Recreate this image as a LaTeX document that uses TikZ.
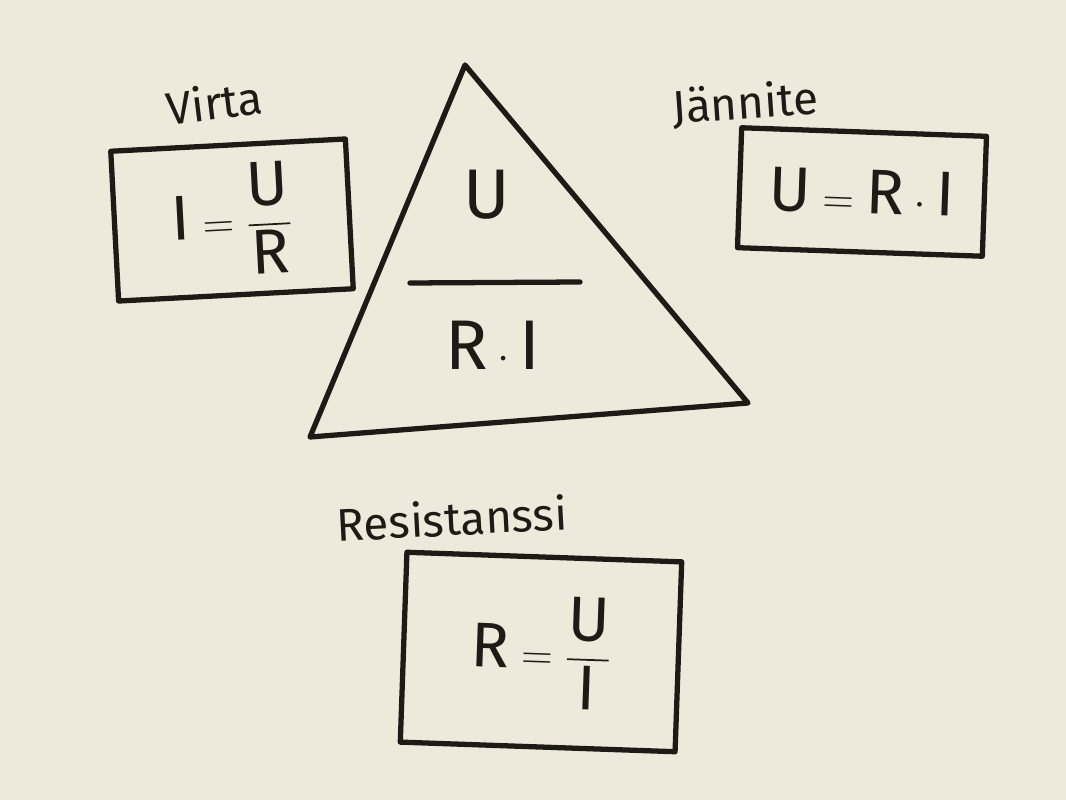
\documentclass[tikz,border=0pt]{standalone}
\usepackage{amsmath}
\usepackage{fontspec}
\setmainfont{Fira Sans}
\definecolor{paperi}{RGB}{238,233,218}
\definecolor{tussi}{RGB}{30,26,22}

\begin{document}
\begin{tikzpicture}[x=0.02cm,y=-0.02cm,
	tussi/.style={draw=tussi,line width=3pt,line cap=round,line join=round},
	laatikko/.style={tussi,rectangle,inner sep=0pt,text=tussi,font=\fontsize{36}{42}\selectfont},
	otsikko/.style={text=tussi,inner sep=1pt,font=\fontsize{26}{30}\selectfont},
	kaava/.style={text=tussi,font=\fontsize{40}{46}\selectfont}]
	
	% tausta
	\fill[paperi] (0,0) rectangle (1066,800);
	\useasboundingbox (0,0) rectangle (1066,800);
	
	% kolmio
	\coordinate (huippu) at (465,65);
	\coordinate (vasen) at (310,437);
	\coordinate (oikea) at (748,403);
	\draw[tussi] (huippu) -- (oikea) -- (vasen) -- cycle;
	\node[kaava] (U) at (487,195) {$\mathrm{U}$};
	\coordinate (viiva1) at (410,283);
	\coordinate (viiva2) at (580,282);
	\draw[tussi] (viiva1) -- (viiva2);
	\node[kaava] (RI) at (493,345) {$\mathrm{R}\cdot\mathrm{I}$};
	
	% laatikot
	\node[laatikko,minimum width=4.7cm,minimum height=3cm,rotate=3] (virta) at (232,220) {$\mathrm{I}=\dfrac{\mathrm{U}}{\mathrm{R}}$};
	\node[laatikko,minimum width=4.9cm,minimum height=2.4cm,rotate=-2] (jannite) at (862,192) {$\mathrm{U}=\mathrm{R}\cdot\mathrm{I}$};
	\node[laatikko,minimum width=5.5cm,minimum height=3.8cm,rotate=-2] (resistanssi) at (541,652) {$\mathrm{R}=\dfrac{\mathrm{U}}{\mathrm{I}}$};
	
	% otsikot
	\node[otsikko,rotate=7] (virtateksti) at (214,102) {Virta};
	\node[otsikko,rotate=4] (janniteteksti) at (745,104) {Jännite};
	\node[otsikko,rotate=3] (resistanssiteksti) at (452,518) {Resistanssi};
\end{tikzpicture}
\end{document}
